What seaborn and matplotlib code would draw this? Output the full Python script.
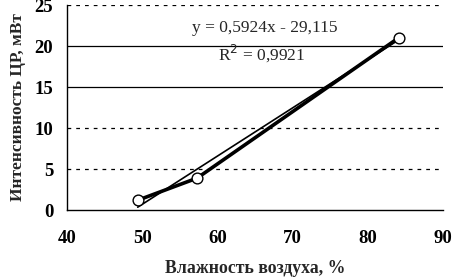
import numpy as np
import pandas as pd
import matplotlib
matplotlib.use("Agg")
import matplotlib.pyplot as plt
import seaborn as sns

sns.set_theme(style="white")
plt.rcParams['font.family'] = ['Liberation Serif', 'DejaVu Serif']

# данные
humidity = [49.4, 57.3, 84.1]
intensity = [1.2, 3.9, 21.0]
df = pd.DataFrame({'x': humidity, 'y': intensity})

fig = plt.figure(figsize=(4.53, 2.79), dpi=100)
ax = fig.add_axes([0.148, 0.247, 0.830, 0.735])

# сетка
for yv, ls in [(5, (0, (3, 4))), (10, (0, (3, 4))), (15, '-'), (20, '-'), (25, (0, (3, 4)))]:
    ax.axhline(yv, color='black', lw=0.9, ls=ls, zorder=0)

sns.lineplot(data=df, x='x', y='y', ax=ax, color='black', lw=2.6, zorder=2)
sns.regplot(data=df, x='x', y='y', ax=ax, scatter=False, ci=None, truncate=True,
            line_kws={'color': 'black', 'lw': 1.2, 'zorder': 3})
sns.scatterplot(data=df, x='x', y='y', ax=ax, s=60, facecolor='white',
                edgecolor='black', linewidth=1.0, zorder=4)

ax.text(66.3, 22.2, 'y = 0,5924x - 29,115', ha='center', va='center', fontsize=12.5)
ax.text(65.9, 19.1, 'R$^2$ = 0,9921', ha='center', va='center', fontsize=12.5)

ax.set_xlim(40, 90)
ax.set_ylim(0, 25)
ax.set_xticks([40, 50, 60, 70, 80, 90])
ax.set_yticks([0, 5, 10, 15, 20, 25])
for s in ['top', 'right']:
    ax.spines[s].set_visible(False)
for s in ['left', 'bottom']:
    ax.spines[s].set_color('black')
    ax.spines[s].set_linewidth(1.0)
ax.tick_params(axis='x', direction='in', length=4, width=1, colors='black', pad=14, labelsize=13.5)
ax.tick_params(axis='y', direction='out', length=4, width=1, colors='black', pad=6, labelsize=13.5)
for lab in ax.get_xticklabels() + ax.get_yticklabels():
    lab.set_fontweight('bold')

ax.set_xlabel('Влажность воздуха, %', fontsize=12.8, fontweight='bold', labelpad=10)
ax.set_ylabel('Интенсивность ЦР, мВт', fontsize=12.5, fontweight='bold', labelpad=6)

fig.savefig('out.png', dpi=100)
